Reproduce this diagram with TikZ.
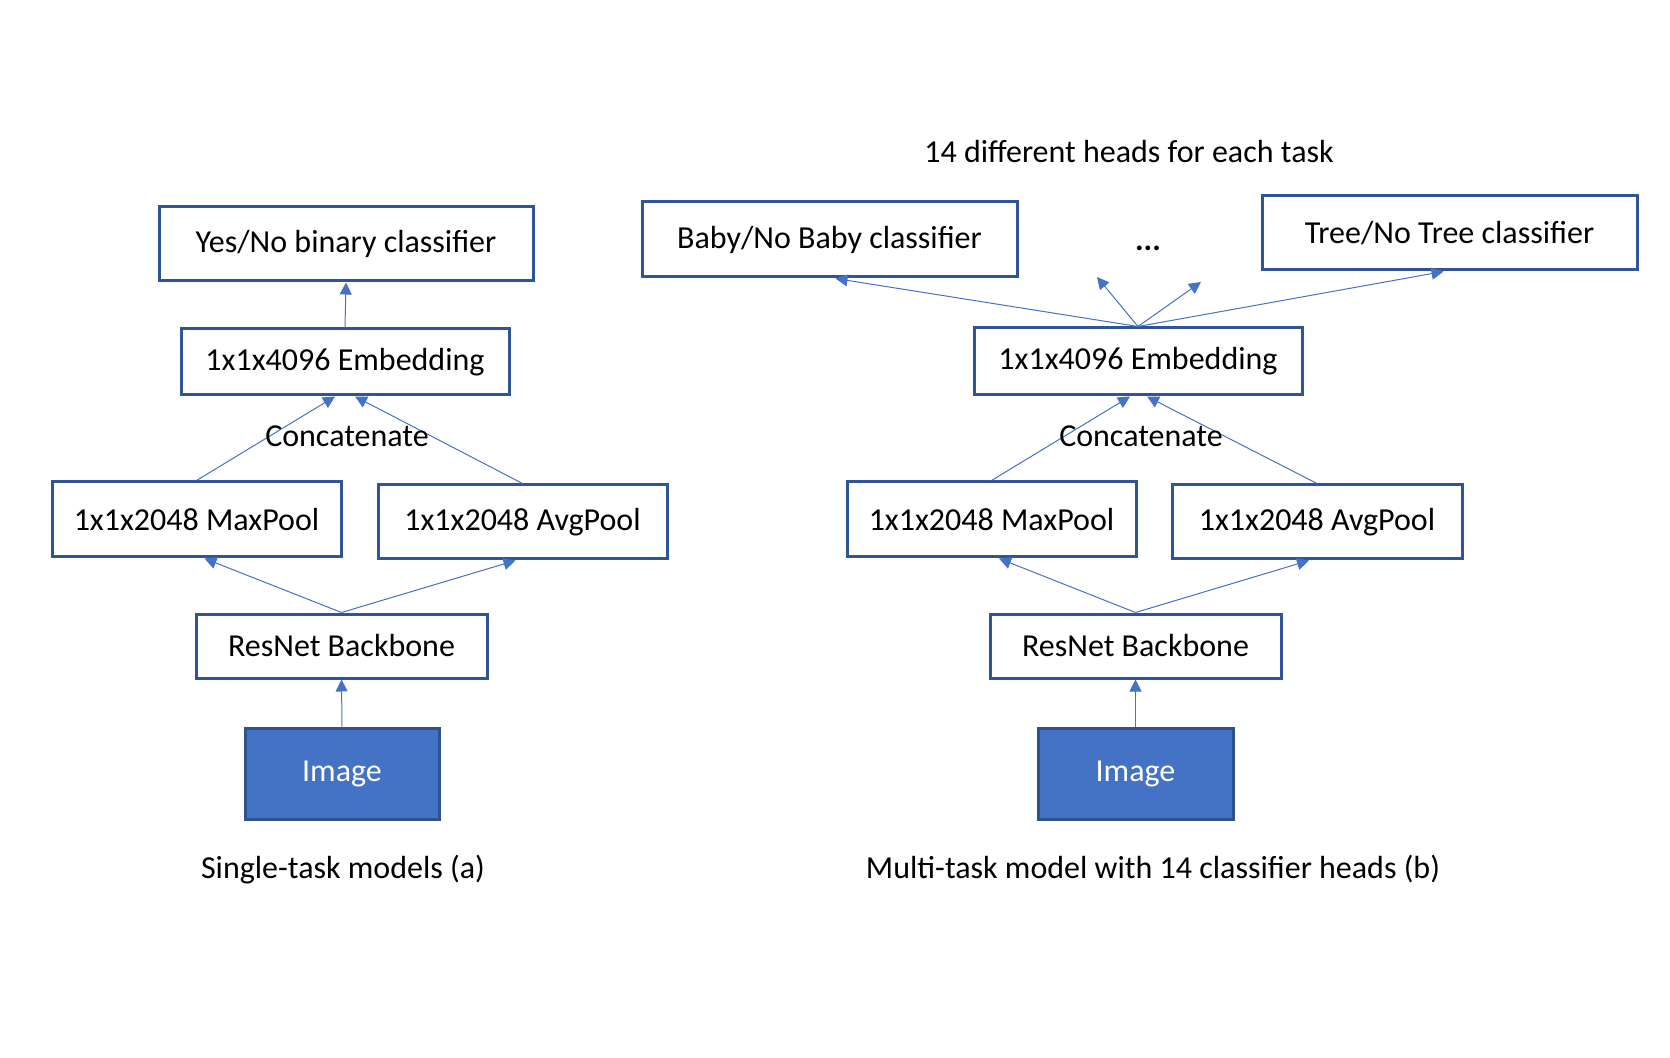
\documentclass[tikz,border=0pt]{standalone}
\usepackage{fontspec}
\setmainfont{Carlito}
\usetikzlibrary{arrows.meta}
\definecolor{boxline}{HTML}{2F5597}
\definecolor{imgfill}{HTML}{4472C4}
\definecolor{imgline}{HTML}{2F528F}
\definecolor{arr}{HTML}{4472C4}
\begin{document}
\begin{tikzpicture}[x=0.5pt,y=-0.5pt,
  box/.style={draw=boxline,line width=1.5pt,fill=white,inner sep=0pt,font=\fontsize{16}{19}\selectfont},
  imgbox/.style={draw=imgline,line width=1.5pt,fill=imgfill,text=white,inner sep=0pt,font=\fontsize{16}{19}\selectfont},
  lbl/.style={inner sep=0pt,font=\fontsize{16}{19}\selectfont},
  conn/.style={draw=arr,line width=0.5pt,-{Triangle[length=6pt,width=6pt]}}]
\useasboundingbox (0,0) rectangle (1670,1058);
% ---------- left ----------
\node[box,minimum width=187pt,minimum height=37pt] (yes) at (346,244) {Yes/No binary classifier};
\node[box,minimum width=164pt,minimum height=33pt] (embL) at (345,362) {1x1x4096 Embedding};
\node[box,minimum width=144.5pt,minimum height=37.5pt] (maxL) at (196.5,519.5) {1x1x2048 MaxPool};
\node[box,minimum width=144.5pt,minimum height=37pt] (avgL) at (522.5,522) {1x1x2048 AvgPool};
\node[box,minimum width=145.5pt,minimum height=32pt] (resL) at (341.5,646) {ResNet Backbone};
\node[imgbox,minimum width=97pt,minimum height=45.5pt] (imgL) at (342,773.5) {Image};
\node[lbl] (capL) at (343,870) {Single-task models (a)};
% ---------- right ----------
\node[lbl] (heads) at (1129,152) {14 different heads for each task};
\node[box,minimum width=187.5pt,minimum height=37.5pt] (baby) at (829.5,239.5) {Baby/No Baby classifier};
\node[lbl,font=\fontsize{16}{19}\selectfont\bfseries] (dots) at (1148,248) {...};
\node[box,minimum width=187.5pt,minimum height=37pt] (tree) at (1449.5,233) {Tree/No Tree classifier};
\node[box,minimum width=164pt,minimum height=33.5pt] (embR) at (1138,361.5) {1x1x4096 Embedding};
\node[box,minimum width=144.5pt,minimum height=37.5pt] (maxR) at (991.5,519.5) {1x1x2048 MaxPool};
\node[box,minimum width=145pt,minimum height=37pt] (avgR) at (1317,522) {1x1x2048 AvgPool};
\node[box,minimum width=145.5pt,minimum height=32pt] (resR) at (1135.5,646) {ResNet Backbone};
\node[imgbox,minimum width=97.5pt,minimum height=45.5pt] (imgR) at (1135.5,773.5) {Image};
\node[lbl] (capR) at (1153,869) {Multi-task model with 14 classifier heads (b)};
\coordinate (freeA) at (1097,277);
\coordinate (freeB) at (1201,282);
% ---------- connectors left ----------
\draw[conn] (embL.north) -- (yes.south);
\draw[conn] (maxL.north) -- ([xshift=-5pt]embL.south);
\draw[conn] (avgL.north) -- ([xshift=5pt]embL.south);
\draw[conn] (resL.north) -- ([xshift=4pt]maxL.south);
\draw[conn] (resL.north) -- ([xshift=-3.5pt]avgL.south);
\draw[conn] (imgL.north) -- (resL.south);
% ---------- connectors right ----------
\draw[conn] (embR.north) -- ([xshift=3pt]baby.south);
\draw[conn] (embR.north) -- (freeA);
\draw[conn] (embR.north) -- (freeB);
\draw[conn] (embR.north) -- ([xshift=-3pt]tree.south);
\draw[conn] (maxR.north) -- ([xshift=-4pt]embR.south);
\draw[conn] (avgR.north) -- ([xshift=4.5pt]embR.south);
\draw[conn] (resR.north) -- ([xshift=3.75pt]maxR.south);
\draw[conn] (resR.north) -- ([xshift=-4pt]avgR.south);
\draw[conn] (imgR.north) -- (resR.south);
% labels drawn over the lines
\node[lbl] (catL) at (347,436) {Concatenate};
\node[lbl] (catR) at (1141,436) {Concatenate};
\end{tikzpicture}
\end{document}
